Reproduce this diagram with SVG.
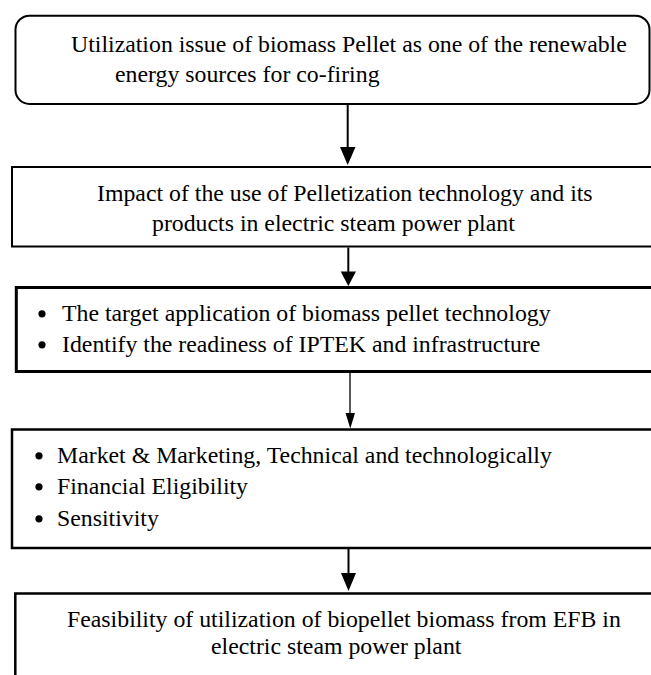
<svg xmlns="http://www.w3.org/2000/svg" width="651" height="675" viewBox="0 0 651 675">
<style>
.box{fill:#fff;stroke:#000}
.t{font-family:"Liberation Serif","Times New Roman",serif;font-size:23.8px;fill:#000}
.dot{fill:#000}
.ln{stroke:#000;fill:none}
.hd{fill:#000;stroke:none}
</style>
<rect width="651" height="675" fill="#fff"/>
<g id="node1">
<rect class="box" x="15.5" y="15.7" width="634" height="88.3" rx="14" ry="14" stroke-width="2"/>
<text class="t" x="71" y="52">Utilization issue of biomass Pellet as one of the renewable</text>
<text class="t" x="115" y="82">energy sources for co-firing</text>
</g>
<g id="node2">
<rect class="box" x="12" y="167" width="650" height="79.5" stroke-width="2"/>
<text class="t" x="97" y="201">Impact of the use of Pelletization technology and its</text>
<text class="t" x="152" y="231">products in electric steam power plant</text>
</g>
<g id="node3">
<rect class="box" x="16.3" y="287.5" width="650" height="84" stroke-width="3"/>
<circle class="dot" cx="42" cy="313.8" r="3.6"/>
<text class="t" x="62" y="321">The target application of biomass pellet technology</text>
<circle class="dot" cx="42" cy="344.8" r="3.6"/>
<text class="t" x="62" y="352">Identify the readiness of IPTEK and infrastructure</text>
</g>
<g id="node4">
<rect class="box" x="12" y="429.5" width="650" height="118.5" stroke-width="2.5"/>
<circle class="dot" cx="39" cy="455.8" r="3.6"/>
<text class="t" x="57" y="463">Market &amp; Marketing, Technical and technologically</text>
<circle class="dot" cx="39" cy="486.8" r="3.6"/>
<text class="t" x="57" y="494">Financial Eligibility</text>
<circle class="dot" cx="39" cy="518.8" r="3.6"/>
<text class="t" x="57" y="526">Sensitivity</text>
</g>
<g id="node5">
<rect class="box" x="15.3" y="593.5" width="650" height="100" stroke-width="2.5"/>
<text class="t" x="67" y="627">Feasibility of utilization of biopellet biomass from EFB in</text>
<text class="t" x="211" y="654">electric steam power plant</text>
</g>
<g id="connectors">
<line class="ln" x1="347.7" y1="105" x2="347.7" y2="150" stroke-width="2"/>
<polygon class="hd" points="340,147 355.5,147 347.7,165"/>
<line class="ln" x1="348.3" y1="247.5" x2="348.3" y2="275" stroke-width="2"/>
<polygon class="hd" points="340.7,271.5 356,271.5 348.3,286"/>
<line class="ln" x1="350" y1="373" x2="350" y2="416" stroke-width="1.3"/>
<polygon class="hd" points="345.5,413 355,413 350.3,428.5"/>
<line class="ln" x1="348.5" y1="549" x2="348.5" y2="576" stroke-width="2"/>
<polygon class="hd" points="341,573 356,573 348.5,591"/>
</g>
</svg>
